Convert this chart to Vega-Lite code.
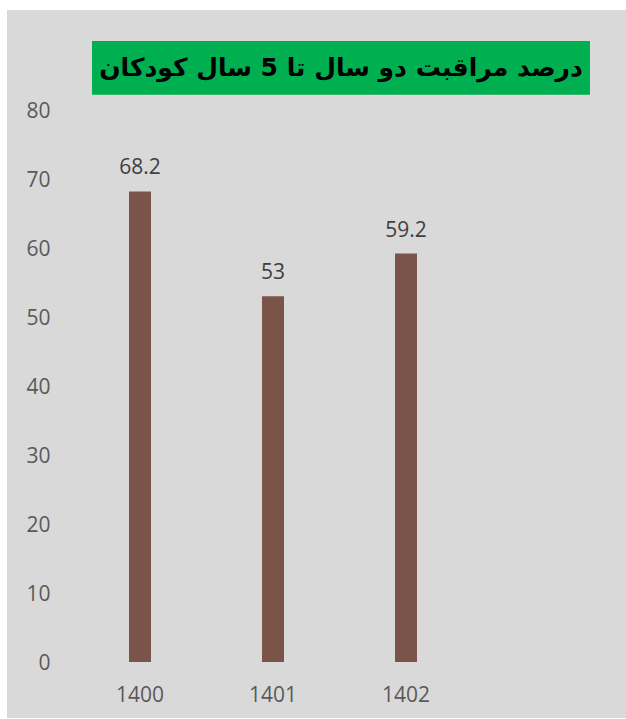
{
  "$schema": "https://vega.github.io/schema/vega-lite/v6.json",
  "autosize": "none",
  "width": 619,
  "height": 708,
  "padding": {"left": 7, "top": 10, "right": 0, "bottom": 1},
  "background": "#FFFFFF",
  "config": {
    "view": {"fill": "#D9D9D9", "stroke": null},
    "font": "Open Sans"
  },
  "datasets": {
    "bars": [
      {"year": "1400", "value": 68.2},
      {"year": "1401", "value": 53},
      {"year": "1402", "value": 59.2}
    ],
    "title": [
      {"text": "درصد مراقبت دو سال تا 5 سال کودکان"}
    ]
  },
  "layer": [
    {
      "data": {"name": "title"},
      "layer": [
        {
          "mark": {"type": "rect", "color": "#00B050"},
          "encoding": {
            "x": {"datum": 0.1373, "type": "quantitative", "scale": {"domain": [0, 1]}, "axis": null},
            "x2": {"datum": 0.9418},
            "y": {"datum": 90.0, "type": "quantitative", "scale": {"domain": [-8.116, 94.49], "nice": false, "zero": false}},
            "y2": {"datum": 82.2}
          }
        },
        {
          "mark": {"type": "text", "font": "DejaVu Sans", "fontWeight": "bold", "fontSize": 25, "color": "#000000", "baseline": "middle", "align": "center"},
          "encoding": {
            "x": {"datum": 0.5396, "type": "quantitative", "scale": {"domain": [0, 1]}, "axis": null},
            "y": {"datum": 86.1, "type": "quantitative"},
            "text": {"field": "text"}
          }
        }
      ]
    },
    {
      "data": {"name": "bars"},
      "encoding": {
        "x": {
          "field": "year",
          "type": "nominal",
          "scale": {"domain": ["1400", "1401", "1402"], "range": [0, 532], "paddingInner": 0.8346, "paddingOuter": 0.9173},
          "axis": {
            "title": null, "orient": "bottom", "offset": -34, "domain": false, "ticks": false, "tickSize": 0,
            "labelPadding": 0, "labelAngle": 0, "labelFontSize": 21, "labelColor": "#595959", "labelFont": "Open Sans", "labelBaseline": "top"
          }
        },
        "y": {
          "field": "value",
          "type": "quantitative",
          "scale": {"domain": [-8.116, 94.49], "nice": false, "zero": false},
          "axis": {
            "title": null, "orient": "left", "offset": -43, "values": [0, 10, 20, 30, 40, 50, 60, 70, 80],
            "domain": false, "ticks": false, "tickSize": 0, "grid": false, "labelPadding": 0, "labelOffset": 2,
            "labelFontSize": 21, "labelColor": "#595959", "labelFont": "Open Sans", "labelAlign": "right", "labelBaseline": "middle"
          }
        }
      },
      "layer": [
        {
          "mark": {"type": "bar", "color": "#7B5449"}
        },
        {
          "mark": {"type": "text", "baseline": "alphabetic", "dy": -17, "fontSize": 21, "color": "#404040", "font": "Open Sans"},
          "encoding": {"text": {"field": "value", "type": "quantitative", "format": ".3~"}}
        }
      ]
    }
  ],
  "resolve": {"scale": {"x": "independent"}}
}
